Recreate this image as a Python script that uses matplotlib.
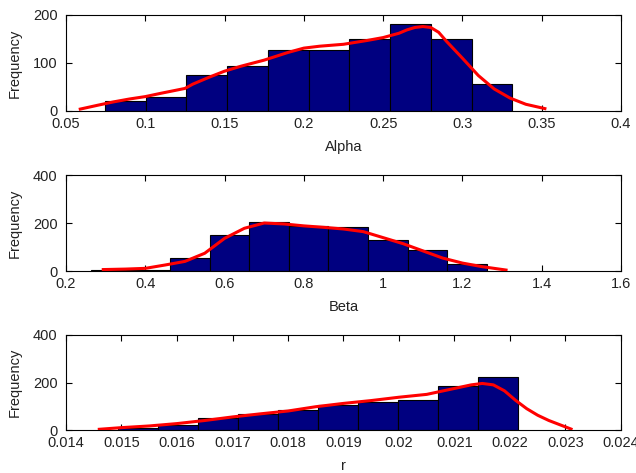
import numpy as np
import matplotlib
matplotlib.use('Agg')
import matplotlib.pyplot as plt

plt.rcParams['font.family'] = ['Liberation Sans', 'DejaVu Sans']

# ---- data ----
alpha_edges = [0.0745, 0.1002, 0.1259, 0.1516, 0.1773, 0.2030, 0.2287, 0.2544, 0.2801, 0.3058, 0.3315]
alpha_counts = [21, 29, 74, 93, 128, 127, 151, 181, 149, 56]
alpha_fit_x = [0.059, 0.07, 0.08, 0.09, 0.10, 0.11, 0.125, 0.13, 0.14, 0.15, 0.16, 0.175, 0.19, 0.20, 0.21,
               0.225, 0.24, 0.25, 0.26, 0.265, 0.27, 0.275, 0.28, 0.285, 0.29, 0.30, 0.31, 0.32, 0.33, 0.34, 0.352]
alpha_fit_y = [4, 12, 19, 25, 30, 37, 47, 56, 70, 83, 93, 106, 122, 131, 135,
               139, 147, 153, 162, 169, 174, 176, 174, 164, 145, 110, 74, 46, 27, 14, 5]

beta_edges = [0.2625, 0.3624, 0.4623, 0.5622, 0.6621, 0.7620, 0.8619, 0.9618, 1.0617, 1.1616, 1.2615]
beta_counts = [3, 5, 53, 149, 204, 189, 183, 130, 89, 30]
beta_fit_x = [0.294, 0.35, 0.40, 0.45, 0.50, 0.55, 0.60, 0.65, 0.70, 0.75, 0.80, 0.85, 0.90, 0.95,
              1.00, 1.05, 1.10, 1.15, 1.20, 1.25, 1.31]
beta_fit_y = [6, 8, 11, 25, 40, 74, 136, 178, 200, 196, 188, 182, 175, 164,
              139, 114, 84, 54, 33, 18, 4]

r_edges = [0.01494, 0.01566, 0.01638, 0.01710, 0.01782, 0.01854, 0.01926, 0.01998, 0.02070, 0.02142, 0.02214]
r_counts = [10, 21, 49, 67, 84, 105, 116, 126, 185, 224]
r_fit_x = [0.0146, 0.0150, 0.0155, 0.0160, 0.0165, 0.0170, 0.0175, 0.0180, 0.0185, 0.0190, 0.0195, 0.0200,
           0.0205, 0.0210, 0.0213, 0.0215, 0.0217, 0.0219, 0.0221, 0.0223, 0.0225, 0.0227, 0.0229, 0.0231]
r_fit_y = [3, 10, 17, 27, 40, 55, 68, 80, 98, 112, 124, 138,
           150, 175, 190, 196, 190, 165, 125, 90, 62, 40, 22, 4]

panels = [
    (alpha_edges, alpha_counts, alpha_fit_x, alpha_fit_y, 'Alpha',
     [0.05, 0.1, 0.15, 0.2, 0.25, 0.3, 0.35, 0.4], ['0.05', '0.1', '0.15', '0.2', '0.25', '0.3', '0.35', '0.4'],
     [0, 100, 200]),
    (beta_edges, beta_counts, beta_fit_x, beta_fit_y, 'Beta',
     [0.2, 0.4, 0.6, 0.8, 1.0, 1.2, 1.4, 1.6], ['0.2', '0.4', '0.6', '0.8', '1', '1.2', '1.4', '1.6'],
     [0, 200, 400]),
    (r_edges, r_counts, r_fit_x, r_fit_y, 'r',
     [0.014, 0.015, 0.016, 0.017, 0.018, 0.019, 0.02, 0.021, 0.022, 0.023, 0.024],
     ['0.014', '0.015', '0.016', '0.017', '0.018', '0.019', '0.02', '0.021', '0.022', '0.023', '0.024'],
     [0, 200, 400]),
]

fig = plt.figure(figsize=(6.36, 4.73), dpi=100)
W, H = 636.0, 473.0
boxes = [(15, 111), (175, 271), (335, 430)]

for (edges, counts, fx, fy, xlab, xt, xtl, yt), (top, bot) in zip(panels, boxes):
    ax = fig.add_axes([66 / W, 1 - bot / H, 555 / W, (bot - top) / H])
    edges = np.array(edges)
    ax.bar(edges[:-1], counts, width=np.diff(edges), align='edge',
           color='#000080', edgecolor='black', linewidth=0.8, zorder=2)
    ax.plot(fx, fy, color='red', linewidth=2.2, zorder=3)
    ax.set_xlim(xt[0], xt[-1])
    ax.set_ylim(yt[0], yt[-1])
    ax.set_xticks(xt)
    ax.set_xticklabels(xtl)
    ax.set_yticks(yt)
    ax.tick_params(direction='in', top=True, right=True, length=4, width=0.8,
                   labelsize=10.5, pad=4, labelcolor='#222222')
    ax.tick_params(axis='y', pad=6)
    for s in ax.spines.values():
        s.set_linewidth(0.8)
    ax.set_xlabel(xlab, fontsize=10.5, color='#222222')
    ax.set_ylabel('Frequency', fontsize=10.5, color='#222222')
    ax.xaxis.set_label_coords(0.5, -0.30)
    ax.yaxis.set_label_coords(-0.08, 0.5)

fig.savefig('out.png', dpi=100)
